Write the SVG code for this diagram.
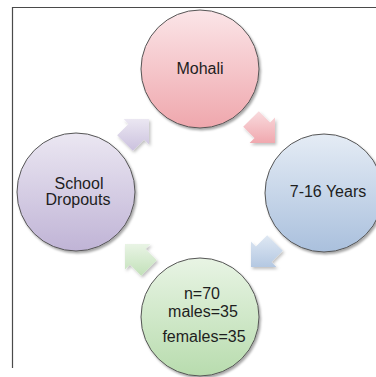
<svg xmlns="http://www.w3.org/2000/svg" width="376" height="377" viewBox="0 0 376 377">
<style>
.node circle{stroke:#555;stroke-width:1;filter:url(#sh)}
.node text{font-family:"Liberation Sans",Arial,sans-serif;font-size:16px;fill:#1e1e1e;text-anchor:middle}
.arr polygon{filter:url(#sh2)}
</style>
<defs>
<filter id="sh" x="-20%" y="-20%" width="150%" height="150%"><feDropShadow dx="1.5" dy="2" stdDeviation="1.2" flood-color="#000" flood-opacity="0.35"/></filter>
<filter id="sh2" x="-30%" y="-30%" width="170%" height="170%"><feDropShadow dx="1.5" dy="2" stdDeviation="1.5" flood-color="#000" flood-opacity="0.25"/></filter>
<linearGradient id="gPink" x1="0" y1="0" x2="0" y2="1"><stop offset="0" stop-color="#fbe5e8"/><stop offset="1" stop-color="#efa7ad"/></linearGradient>
<linearGradient id="gBlue" x1="0" y1="0" x2="0" y2="1"><stop offset="0" stop-color="#e5ecf5"/><stop offset="1" stop-color="#aac0dd"/></linearGradient>
<linearGradient id="gGreen" x1="0" y1="0" x2="0" y2="1"><stop offset="0" stop-color="#e8f4e4"/><stop offset="1" stop-color="#b8dcae"/></linearGradient>
<linearGradient id="gPurple" x1="0" y1="0" x2="0" y2="1"><stop offset="0" stop-color="#ebe7f2"/><stop offset="1" stop-color="#c0b4d6"/></linearGradient>
<linearGradient id="aPink" x1="0" y1="0" x2="0" y2="1"><stop offset="0" stop-color="#f9dbde"/><stop offset="1" stop-color="#f0a8ae"/></linearGradient>
<linearGradient id="aBlue" x1="0" y1="0" x2="0" y2="1"><stop offset="0" stop-color="#dfe8f3"/><stop offset="1" stop-color="#b4c8e2"/></linearGradient>
<linearGradient id="aGreen" x1="0" y1="0" x2="0" y2="1"><stop offset="0" stop-color="#e9f4e5"/><stop offset="1" stop-color="#c2e1b9"/></linearGradient>
<linearGradient id="aPurple" x1="0" y1="0" x2="0" y2="1"><stop offset="0" stop-color="#ebe7f2"/><stop offset="1" stop-color="#cbc1de"/></linearGradient>
</defs>
<rect width="376" height="377" fill="#fff"/>
<path d="M12.5,368 V7.5 H376" fill="none" stroke="#4a4a4a" stroke-width="1.2"/>
<g id="connectors" class="arr">
<polygon fill="url(#aPink)" points="258.8,111.2 270.1,122.5 275.0,117.6 275.0,143.0 249.6,143.0 254.5,138.1 243.2,126.8"/>
<polygon fill="url(#aBlue)" points="267.2,235.2 255.9,246.5 251.0,241.6 251.0,267.0 276.4,267.0 271.5,262.1 282.8,250.8"/>
<polygon fill="url(#aGreen)" points="141.2,275.8 129.9,264.5 125.0,269.4 125.0,244.0 150.4,244.0 145.5,248.9 156.8,260.2"/>
<polygon fill="url(#aPurple)" points="132.8,150.8 144.1,139.5 149.0,144.4 149.0,119.0 123.6,119.0 128.5,123.9 117.2,135.2"/>
</g>
<g id="mohali" class="node">
<circle cx="200" cy="69" r="59" fill="url(#gPink)"/>
<text x="200" y="74">Mohali</text>
</g>
<g id="years" class="node">
<circle cx="324" cy="193" r="59" fill="url(#gBlue)"/>
<text x="328" y="197">7-16 Years</text>
</g>
<g id="sample" class="node">
<circle cx="200" cy="317" r="59" fill="url(#gGreen)"/>
<text x="202" y="299">n=70</text>
<text x="203" y="317">males=35</text>
<text x="204" y="342">females=35</text>
</g>
<g id="dropouts" class="node">
<circle cx="76" cy="192" r="59" fill="url(#gPurple)"/>
<text x="79" y="189">School</text>
<text x="78" y="205">Dropouts</text>
</g>
</svg>
